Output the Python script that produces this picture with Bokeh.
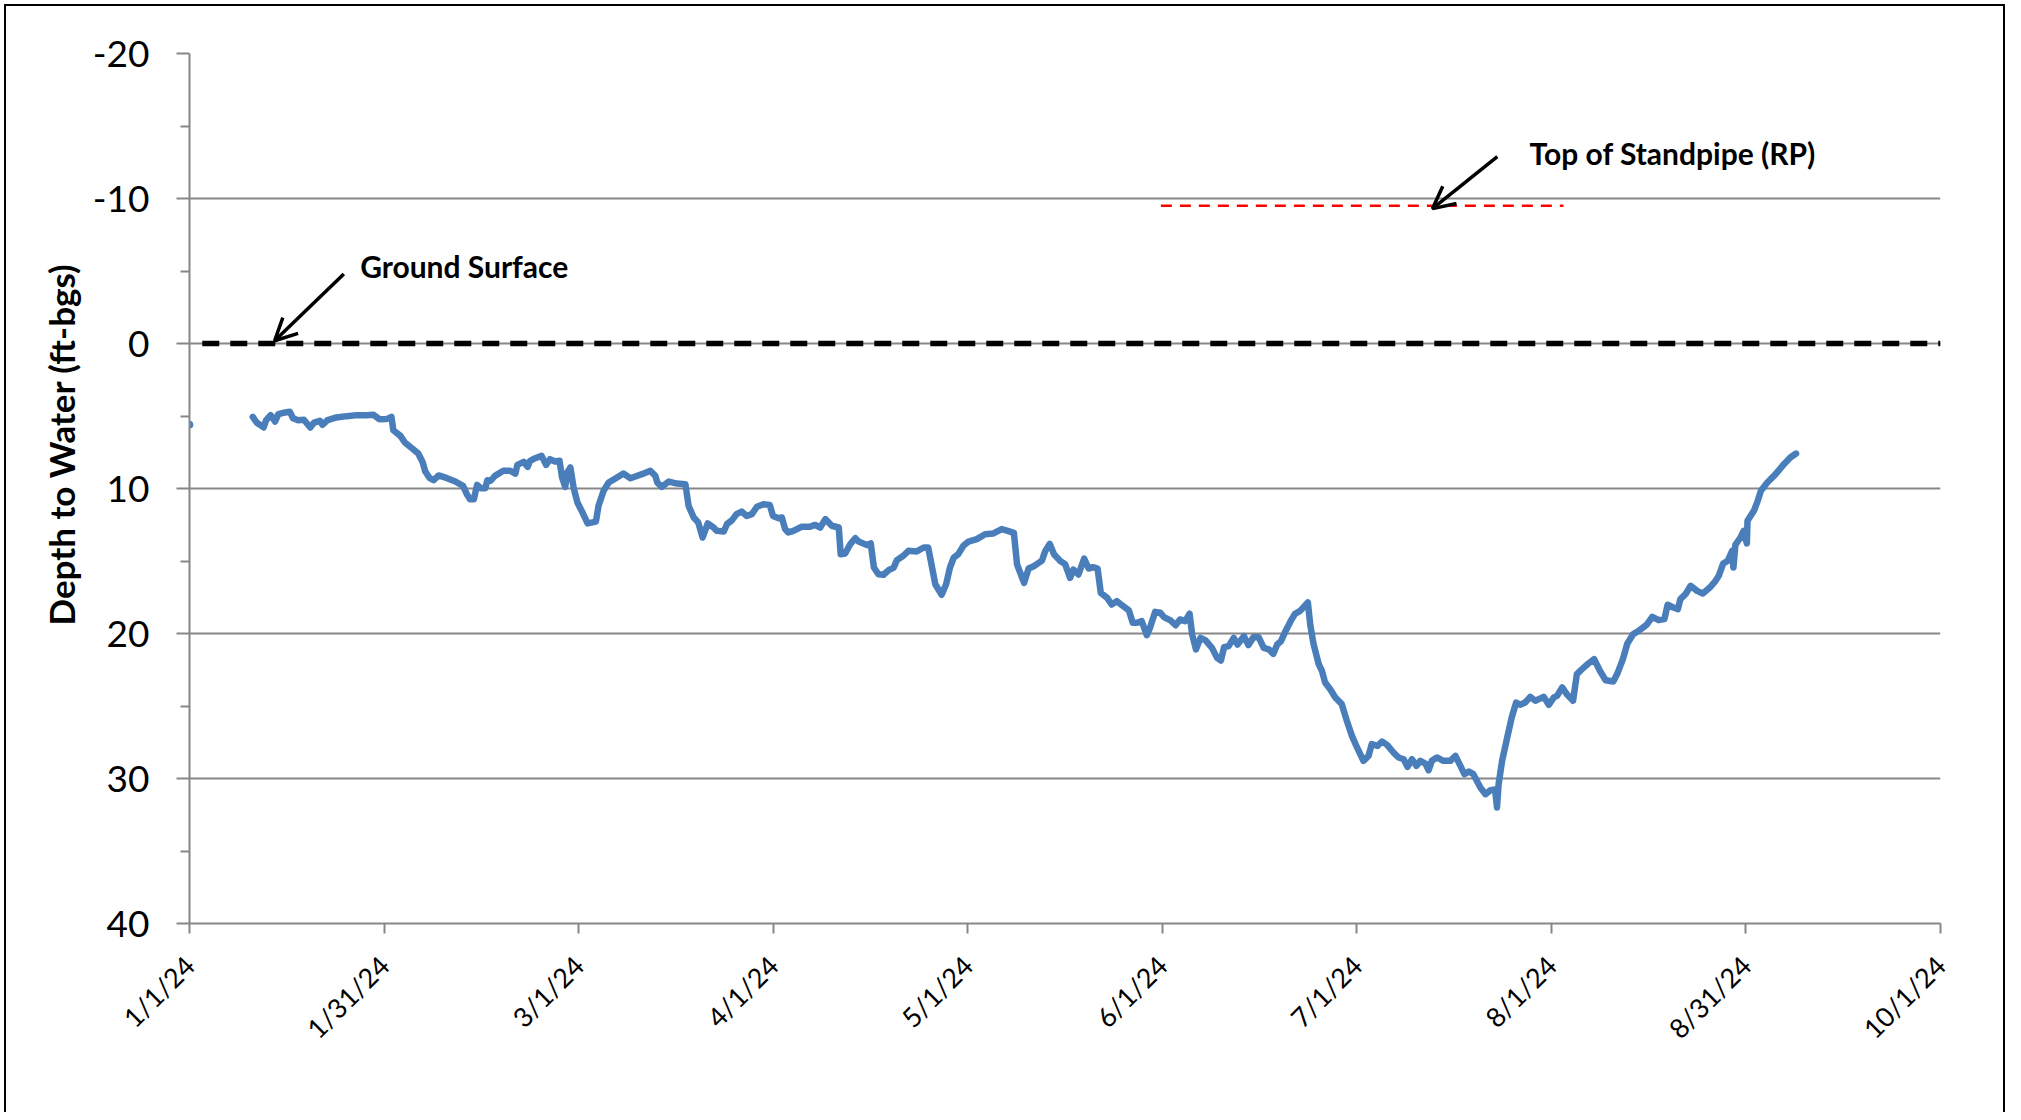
import numpy as np
import pandas as pd
from math import pi
from bokeh.plotting import figure
from bokeh.models import (Range1d, FixedTicker, Label, Arrow, OpenHead, Title,
                          CustomJSTickFormatter)
from bokeh.embed import file_html
from bokeh.resources import INLINE

START = "2024-01-01"
END = "2024-10-01"
tick_labels = ["1/1/24", "1/31/24", "3/1/24", "4/1/24", "5/1/24", "6/1/24",
               "7/1/24", "8/1/24", "8/31/24", "10/1/24"]
y_ticks = [-20, -10, 0, 10, 20, 30, 40]
y_minor = [-15, -5, 5, 15, 25, 35]

# isolated first reading
first_day = [0.0]
first_depth = [5.6]

# days since 1/1/24 and depth to water (ft-bgs)
days = [9.9, 10.5, 11.6, 12.0, 12.7, 13.4, 13.9, 14.7, 15.7, 16.2, 17.0, 17.9, 18.9, 19.5, 20.4,
        20.8, 21.6, 23.0, 24.6, 26.2, 27.7, 28.8, 29.7, 30.9, 31.6, 31.9, 33.0, 33.7, 35.0, 35.8,
        36.5, 36.9, 37.6, 38.2, 39.0, 40.3, 41.6, 42.8, 43.4, 43.9, 44.5, 45.0, 45.6, 46.3, 46.6,
        47.1, 47.8, 49.1, 50.2, 51.0, 51.3, 52.3, 52.9, 53.3, 54.1, 55.1, 55.8, 56.4, 57.2, 57.9,
        58.3, 58.8, 59.1, 59.6, 60.1, 60.7, 61.5, 62.3, 63.6, 64.0, 64.8, 65.6, 66.9, 67.9,
        69.0, 70.8, 72.1, 72.9, 73.2, 73.9, 75.0, 76.3, 77.6, 78.1, 78.9, 79.6, 80.3, 81.1, 82.0,
        82.5, 83.6, 84.1, 84.9, 85.6, 86.4, 87.2, 88.0, 88.8, 89.8, 90.8, 91.3, 92.2, 92.7, 93.2,
        93.7, 94.5, 95.8, 97.1, 97.9, 98.7, 99.5, 100.5, 101.6, 101.9, 102.6, 103.4, 104.2, 104.7,
        106.0, 106.6, 107.1, 107.8, 108.6, 109.4, 110.2, 110.7, 111.7, 112.5, 113.8, 114.9, 115.6,
        116.0, 116.7, 117.7, 118.4, 119.0, 119.6, 120.3, 121.1, 121.9, 123.2, 124.5, 125.8, 127.1,
        127.9, 129.0, 129.5, 130.1, 130.6, 131.3, 132.1, 133.4, 133.9, 134.6, 135.3, 136.3, 137.0,
        137.8, 138.3, 139.1, 140.0, 140.7, 141.4, 142.1, 142.6, 143.6, 144.3, 145.1, 145.9, 147.0,
        147.6, 148.3, 149.0, 149.8, 150.3, 151.1, 151.9, 152.5, 153.5, 154.3, 155.0, 155.8, 156.5,
        156.9, 157.5, 158.2, 159.0, 160.0, 160.8, 161.4, 161.9, 162.6, 163.4, 164.0, 165.0, 165.7,
        166.5, 167.3, 168.1, 168.9, 169.6, 170.2, 170.8, 171.5, 172.3, 173.0,
        173.8, 175.0, 175.4, 175.9, 176.7, 177.2, 177.7, 178.5, 179.3, 180.3, 181.1, 181.9, 182.7,
        183.2, 183.7, 184.5, 185.0, 185.9, 186.6, 187.4, 188.4, 189.2, 190.0, 190.6, 191.3, 192.0,
        192.6, 193.4, 193.9, 194.4, 195.2, 196.2, 197.3, 198.1, 198.8, 199.5, 200.2, 200.9, 202.0,
        202.8, 203.6, 204.3, 204.6, 204.85, 205.4, 206.2, 206.9, 207.6, 208.2, 209.0, 209.8, 210.6,
        211.9, 212.7, 213.5,
        214.0, 214.8, 215.6, 216.5, 217.1, 217.9, 218.9, 219.8, 220.7, 221.6, 222.8, 223.4, 224.3,
        225.0, 225.9, 226.9, 228.0, 228.9, 229.9, 230.8, 231.3, 232.2, 232.9, 233.3, 234.1, 234.9,
        235.9, 236.8, 237.9, 238.8, 239.3, 240.0, 240.7, 241.4, 241.6, 241.9, 242.7, 243.2, 243.7,
        243.8, 244.8, 245.4, 245.9, 246.9, 248.2, 249.5, 250.5, 251.4]

depth = [5.06, 5.45, 5.79, 5.29, 4.94, 5.38, 4.87, 4.78, 4.71, 5.15, 5.29, 5.26, 5.79, 5.45, 5.33,
         5.61, 5.29, 5.10, 5.01, 4.94, 4.94, 4.92, 5.22, 5.20, 5.06, 5.98, 6.37, 6.83, 7.29, 7.59,
         8.21, 8.83, 9.29, 9.43, 9.10, 9.29, 9.52, 9.82, 10.39, 10.74, 10.74, 9.75, 9.98, 9.98, 9.43,
         9.47, 9.13, 8.78, 8.78, 8.97, 8.37, 8.16, 8.51, 8.09, 7.91, 7.75, 8.37, 7.98, 8.14, 8.09,
         9.24, 9.89, 8.90, 8.55, 9.93, 10.97, 11.66, 12.41, 12.28, 11.20, 10.16, 9.59, 9.24, 8.97,
         9.29, 9.01, 8.78, 9.13, 9.59, 9.89, 9.52, 9.66, 9.70, 11.20, 12.00, 12.34, 13.38, 12.41, 12.69,
         12.92, 12.97, 12.46, 12.18, 11.77, 11.59, 11.89, 11.77, 11.26, 11.08, 11.13, 11.89, 12.05, 12.00, 12.80,
         13.03, 12.92, 12.64, 12.64, 12.51, 12.69, 12.11, 12.57, 12.69, 14.53, 14.48, 13.84, 13.43, 13.66,
         13.89, 13.79, 15.45, 15.91, 15.95, 15.63, 15.45, 14.94, 14.64, 14.30, 14.34, 14.07, 14.07,
         14.99, 16.60, 17.33, 16.60, 15.45, 14.76, 14.53, 13.95, 13.66, 13.49, 13.15, 13.10, 12.80,
         12.90, 13.06, 15.24, 15.93, 16.51, 15.52, 15.36, 14.97, 14.32, 13.82, 14.55, 15.01, 15.20,
         16.16, 15.59, 15.93, 14.83, 15.52, 15.43, 15.52, 17.20, 17.54, 18.00, 17.77, 18.05, 18.41,
         19.26, 19.26, 19.15, 20.11, 19.61, 18.51, 18.57, 18.87, 19.10, 19.43, 19.03, 19.15, 18.64,
         20.07, 21.10, 20.30, 20.48, 20.99, 21.68, 21.86, 20.94, 20.87, 20.30, 20.76, 20.18, 20.80,
         20.25, 20.25, 20.99, 21.10, 21.40, 20.76, 20.53, 19.84, 19.15, 18.64,
         18.44, 17.86, 19.47, 20.74, 22.11, 22.57, 23.38, 23.84, 24.41, 24.87, 26.02, 27.06, 27.86,
         28.32, 28.78, 28.44, 27.63, 27.75, 27.45, 27.68, 28.21, 28.55, 28.67, 29.20, 28.67, 29.13,
         28.78, 28.97, 29.43, 28.78, 28.55, 28.78, 28.78, 28.44, 29.06, 29.70, 29.52, 29.70, 30.62,
         31.08, 30.80, 30.76, 32.00, 30.39, 28.78, 27.17, 25.79, 24.76, 24.92, 24.76, 24.37, 24.64,
         24.37, 24.92, 24.41,
         24.30, 23.72, 24.23, 24.64, 22.80, 22.46, 22.07, 21.77, 22.57, 23.22, 23.31, 22.80, 21.77,
         20.69, 20.05, 19.77, 19.40, 18.85, 19.08, 19.01, 18.02, 18.21, 18.32, 17.63, 17.29, 16.71,
         17.06, 17.24, 16.83, 16.37, 16.02, 15.17, 14.99, 14.30, 15.45, 13.89, 13.38, 12.92, 13.79,
         12.23, 11.54, 10.85, 10.16, 9.59, 9.01, 8.32, 7.86, 7.59]

gs_dates = ["2024-01-03", "2024-10-01"]
gs_level = [0, 0]
rp_dates = ["2024-06-01", "2024-08-03"]
rp_level = [-9.5, -9.5]


def off(d):
    return (pd.Timestamp(d) - pd.Timestamp(START)).days


span = off(END)
n_int = len(tick_labels) - 1
x_ticks = list(np.linspace(0, span, len(tick_labels)))

GRAY = "#878787"
BLUE = "#4A7EBB"

p = figure(width=2005, height=1112, output_backend="svg", toolbar_location=None,
           x_range=Range1d(0, span), y_range=Range1d(40, -20),
           min_border_left=189, min_border_right=65, min_border_top=53, min_border_bottom=189)
p.title.visible = False
p.outline_line_color = None
p.background_fill_color = "white"
p.border_fill_color = None
p.styles = {
    "background": ("linear-gradient(#000,#000) left 4px top 4px / 2px 100% no-repeat, "
                   "linear-gradient(#000,#000) left 4px top 4px / calc(100% - 4px) 2px no-repeat, "
                   "linear-gradient(#000,#000) right 0px top 4px / 2px 100% no-repeat, white")
}

# x axis
p.xaxis.ticker = FixedTicker(ticks=x_ticks, minor_ticks=[])
p.xaxis.formatter = CustomJSTickFormatter(args=dict(labels=tick_labels, span=span, n=n_int),
                                          code="return labels[Math.round(tick*n/span)];")
p.xaxis.major_label_orientation = pi / 4
p.xaxis.major_label_text_font = "Lato"
p.xaxis.major_label_text_font_size = "27px"
p.xaxis.major_label_text_color = "black"
p.xaxis.major_label_standoff = 27
p.xaxis.axis_line_color = GRAY
p.xaxis.axis_line_width = 2
p.xaxis.major_tick_line_color = GRAY
p.xaxis.major_tick_line_width = 2
p.xaxis.major_tick_out = 10
p.xaxis.major_tick_in = 0
p.xaxis.minor_tick_line_color = None

# y axis
p.yaxis.ticker = FixedTicker(ticks=y_ticks, minor_ticks=y_minor)
p.yaxis.formatter = CustomJSTickFormatter(code="return tick.toString();")
p.yaxis.major_label_text_font = "Lato"
p.yaxis.major_label_text_font_size = "37px"
p.yaxis.major_label_text_color = "black"
p.yaxis.major_label_standoff = 27
p.yaxis.axis_line_color = GRAY
p.yaxis.axis_line_width = 2
p.yaxis.major_tick_line_color = GRAY
p.yaxis.major_tick_line_width = 2
p.yaxis.major_tick_out = 13
p.yaxis.major_tick_in = 0
p.yaxis.minor_tick_line_color = GRAY
p.yaxis.minor_tick_line_width = 2
p.yaxis.minor_tick_out = 9
p.yaxis.minor_tick_in = 0

p.xgrid.visible = False
p.ygrid.grid_line_color = GRAY
p.ygrid.grid_line_width = 2

# y axis title
p.add_layout(Title(text="Depth to Water (ft-bgs)", align="left", offset=298, standoff=16,
                   text_font="Lato", text_font_style="bold", text_font_size="35px",
                   text_color="black"), "left")

# reference lines
p.line([off(d) for d in gs_dates], gs_level, line_color="black", line_width=5.5, line_dash="17 11")
p.line([off(d) for d in rp_dates], rp_level, line_color="red", line_width=2.5, line_dash="11 8")

# data
p.line(days, depth, line_color=BLUE, line_width=6.5, line_join="round", line_cap="round")
p.scatter(first_day, first_depth, size=7, color=BLUE)

# annotations
p.add_layout(Label(x=26.7, y=-5.36, text="Ground Surface", text_align="left",
                   text_baseline="alphabetic", text_font="Lato", text_font_style="bold",
                   text_font_size="30px", text_color="black"))
p.add_layout(Label(x=209.7, y=-13.16, text="Top of Standpipe (RP)", text_align="left",
                   text_baseline="alphabetic", text_font="Lato", text_font_style="bold",
                   text_font_size="30px", text_color="black"))
p.add_layout(Arrow(end=OpenHead(size=22, line_width=3.5, line_color="black"),
                   x_start=24.15, y_start=-4.79, x_end=13.32, y_end=-0.19,
                   line_width=3.5, line_color="black"))
p.add_layout(Arrow(end=OpenHead(size=22, line_width=3.5, line_color="black"),
                   x_start=204.65, y_start=-12.88, x_end=194.5, y_end=-9.3,
                   line_width=3.5, line_color="black"))

open("out.html", "w").write(file_html(p, INLINE))
